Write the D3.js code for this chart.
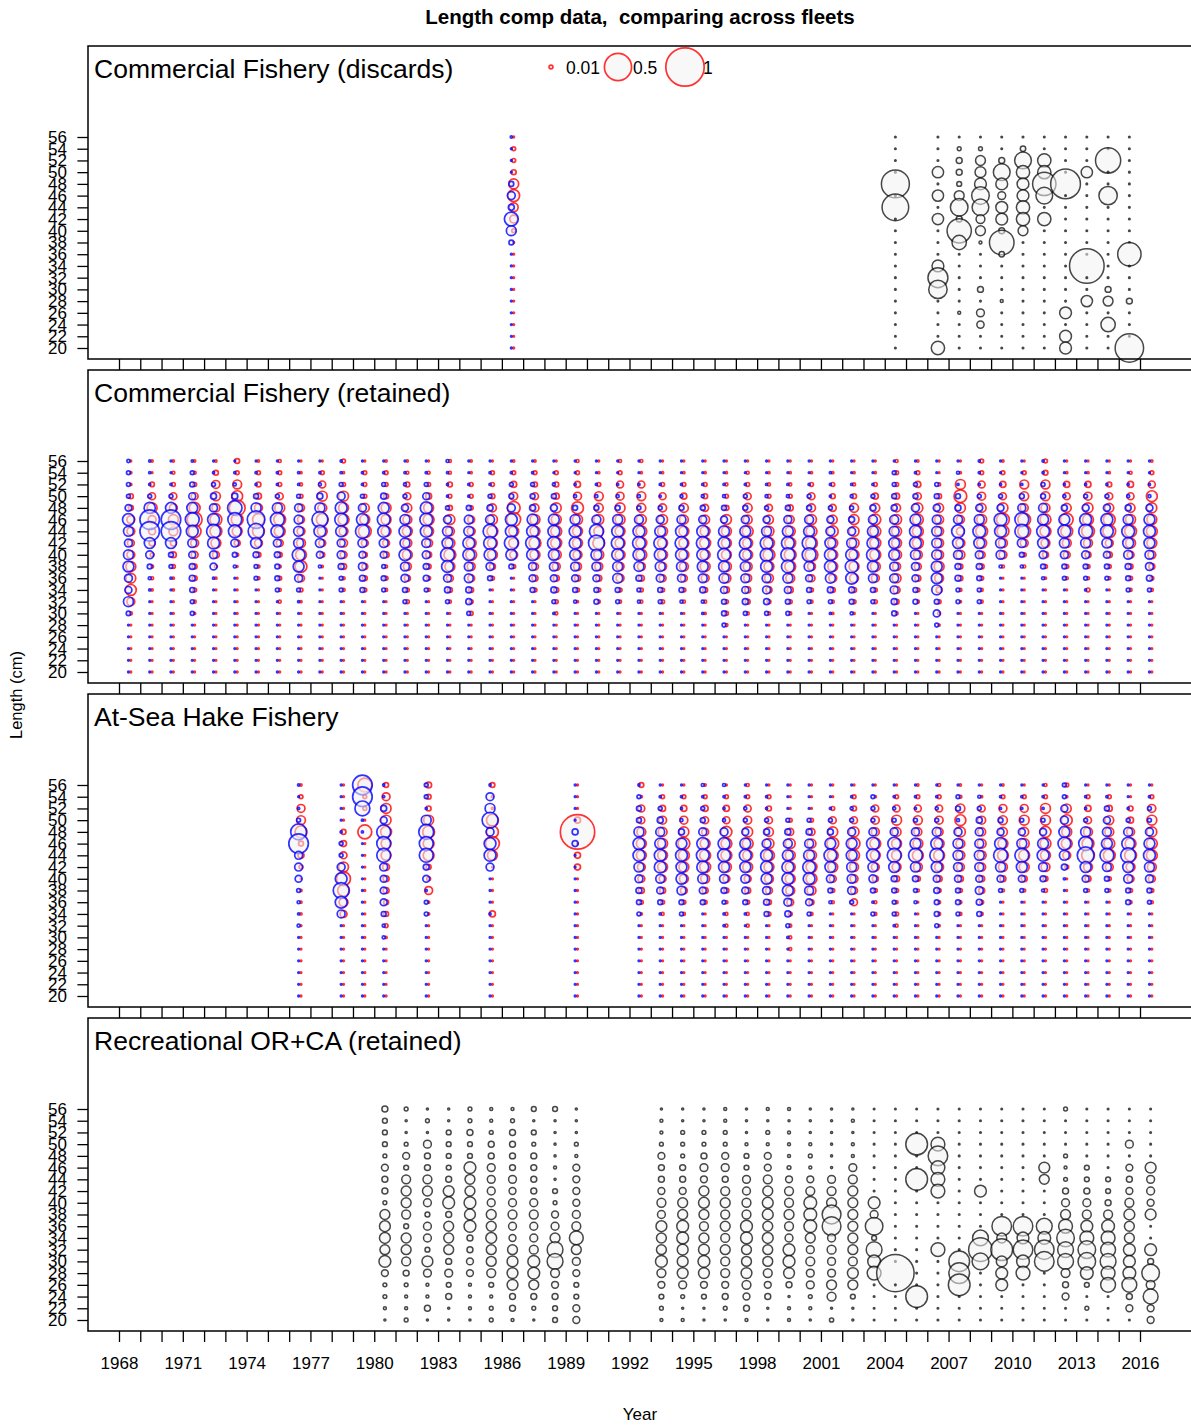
<!DOCTYPE html>
<html><head><meta charset="utf-8">
<script src="https://cdn.jsdelivr.net/npm/d3@7"></script>
<style>
html,body{margin:0;padding:0;background:#fff;}
svg{display:block;font-family:"Liberation Sans",Arial,sans-serif;}
</style></head><body>
<svg id="chart" width="1191" height="1426"></svg>
<script>
// ---------- DATA (proportions in %, length bins listed from 56 cm down to 20 cm) ----------
const lengthBins = [56,54,52,50,48,46,44,42,40,38,36,34,32,30,28,26,24,22,20];
const yearLabels = [1968,1971,1974,1977,1980,1983,1986,1989,1992,1995,1998,2001,2004,2007,2010,2013,2016];
const fleetNames = ["Commercial Fishery (discards)","Commercial Fishery (retained)","At-Sea Hake Fishery","Recreational OR+CA (retained)"];
const legendValues = [0.01,0.5,1];

// Fleet 1: Commercial discards
const discardSexedYears = [1986];
const discardFemale = [[0,1,1,1.6,6.6,9.5,5.3,4.2,1,0,0,0,0,0,0,0,0,0,0]];
const discardMale   = [[0.3,0,0,0,1.6,4.2,2.4,13,6.6,1.6,0,0,0,0,0,0,0,0,0]];
const discardUnsexedYears = [2004,2006,2007,2008,2009,2010,2011,2012,2013,2014,2015];
const discardUnsexed = [
 [0,0,0,0,53,0,48,0,0,0,0,0,0,0,0,0,0,0,0],
 [0,0,0,8.7,0,8.7,0,8.7,0,0,0,9.5,27,23,0,0,0,0,12],
 [0,1,2.4,2.4,1.6,6.6,21,2.4,40,14,0,0,0,0,0,0.6,0,0,0],
 [0,1,6.6,8,9.5,21,19,5.3,6.6,0.6,0,0,0,2.4,0,4.2,3.6,0,0],
 [0,0,2.4,19,9.5,4.2,9.5,9.5,2.4,41,2,0,0,0,0.6,0,0,0,0],
 [0,2,19,12,9.5,9.5,12,12,6.6,0,0,0,0,0,0,0,0,0,0],
 [0,0,12,12,37,19,0,12,0,0,0,0,0,0,0,0,0,0,0],
 [0,0,0,0,60,0,0,0,0,0,0,0,0,0,0,9.5,0,9.5,9.5],
 [0,0,0,8.7,0,0,0,0,0,0,0,81,0,0,8.7,0,0,0,0],
 [0,0,43,0,0,23,0,0,0,0,0,0,0,2.4,6.6,0,14,0,0],
 [0,0,0,0,0,0,0,0,0,0,37,0,0,0,2.4,0,0,0,55]
];

// Fleet 2: Commercial retained
const retainedYears = [1968,1969,1970,1971,1972,1973,1974,1975,1976,1977,1978,1979,1980,1981,1982,1983,1984,1985,1986,1987,1988,1989,1990,1991,1992,1993,1994,1995,1996,1997,1998,1999,2000,2001,2002,2003,2004,2005,2006,2007,2008,2009,2010,2011,2012,2013,2014,2015,2016];
const retainedFemale = [
 [0,0.3,0.3,1.6,1.6,4.2,4.2,3.2,4.2,6.6,6.6,8,4.2,0.6,0,0,0,0,0],
 [0.3,0,1.4,3.2,6.6,4.2,3.2,2.4,1,0.6,0.6,0.3,0,0,0,0,0,0,0],
 [0.3,0.6,1,3.2,4.2,6.6,5.3,2.4,2.4,1,0.3,0.3,0,0,0,0,0,0,0],
 [0.3,0.6,1,3.2,8,15,11,4.2,3.2,1.6,1.6,1,0.6,0.3,0,0,0,0,0],
 [0.3,1.6,4.2,5.3,4.2,9.5,9.5,6.6,3.2,0.6,0.3,0,0,0,0,0,0,0,0],
 [1.6,1,5.3,8,17,9.5,6.6,2.4,0.6,0,0,0,0,0,0,0,0,0,0],
 [0.3,1,1.6,2.4,4.2,9.5,9.5,4.2,1.6,0.6,0.6,0,0,0,0,0,0,0,0],
 [0.6,1,1,3.2,6.6,9.5,8,3.2,1.6,0.6,1,0.6,0.6,0,0,0,0,0,0],
 [0,0.3,0.6,1,3.2,3.2,4.2,5.3,8,9.5,3.2,1,0.3,0,0,0,0,0,0],
 [0,1,3.2,6.6,5.3,9.5,6.6,3.2,1.6,0.3,0,0,0,0,0,0,0,0,0],
 [1,0.3,1,6.6,6.6,8,5.3,4.2,3.2,2.4,0.6,0.6,0,0,0,0,0,0,0],
 [0,1,1,1,5.3,6.6,11,3.2,1.6,2.4,1.6,1,0,0,0,0,0,0,0],
 [0.3,1,1,1.6,6.6,6.6,6.6,3.2,2.4,0.6,1,0.6,0,0,0,0,0,0,0],
 [0.3,0.6,1.6,3.2,5.3,5.3,6.6,5.3,6.6,4.2,2.4,1,1,0,0,0,0,0,0],
 [0,0.6,1,2.4,6.6,8,6.6,4.2,2.4,1.6,1,0.6,0,0,0,0,0,0,0],
 [0.6,0.6,1.6,1,1.6,6.6,5.3,6.6,9.5,6.6,3.2,1.6,0.6,0,0,0,0,0,0],
 [0.3,0.3,1,1,1,3.2,4.2,6.6,8,4.2,3.2,1.6,1,1,0,0,0,0,0],
 [0,1,1,1.6,4.2,6.6,8,6.6,6.6,2.4,1,0,0,0,0,0,0,0,0],
 [0.3,1,2.4,4.2,11,13,6.6,6.6,4.2,1,0,0,0,0,0,0,0,0,0],
 [0.3,1,1.6,3.2,4.2,6.6,6.6,9.5,6.6,3.2,2.4,1,0,0,0,0,0,0,0],
 [0,1,1.6,2.4,6.6,6.6,8,8,6.6,4.2,2.4,1.6,1,0.6,0,0,0,0,0],
 [0.6,1,2.4,4.2,9.5,6.6,6.6,6.6,5.3,4.2,2.4,1,0.3,0,0,0,0,0,0],
 [0,0.3,1,5.3,5.3,6.6,6.6,9.5,6.6,4.2,2.4,1,0.6,0,0,0,0,0,0],
 [0.6,1,3.2,4.2,6.6,6.6,6.6,6.6,6.6,4.2,4.2,1,0.6,0,0,0,0,0,0],
 [0.6,0.3,3.2,5.3,5.3,6.6,8,8,8,4.2,2.4,1,0.6,0,0,0,0,0,0],
 [0,0.3,1,3.2,4.2,6.6,6.6,6.6,6.6,4.2,3.2,1,1,0,0,0,0,0,0],
 [0,0.3,1,2.4,5.3,5.3,6.6,6.6,6.6,5.3,3.2,1,0.6,0,0,0,0,0,0],
 [0,0.3,1,1.6,3.2,5.3,6.6,8,6.6,6.6,4.2,1.6,0.6,0.3,0,0,0,0,0],
 [0,0.3,0.6,1,1.6,6.6,6.6,6.6,6.6,6.6,5.3,2.4,1,1,0.6,0,0,0,0],
 [0,0.6,1,3.2,5.3,5.3,8,6.6,6.6,5.3,4.2,2.4,1.6,0.6,0,0,0,0,0],
 [0,0.3,0.6,1,3.2,5.3,6.6,8,9.5,6.6,5.3,2.4,1,0.6,0,0,0,0,0],
 [0,0.3,0.6,1,2.4,4.2,6.6,8,9.5,8,5.3,2.4,1,0.6,0,0,0,0,0],
 [0,0.3,1,3.2,4.2,6.6,8,9.5,11,4.2,3.2,1,0.6,0,0,0,0,0,0],
 [0,0.3,1,1.6,3.2,5.3,8,6.6,6.6,6.6,4.2,1.6,0.6,0.3,0,0,0,0,0],
 [0,0.3,0.6,1.6,5.3,6.6,6.6,6.6,6.6,6.6,5.3,1.6,1,0.3,0,0,0,0,0],
 [0,0.3,1,2.4,5.3,8,8,8,8,6.6,4.2,1,1,0,0,0,0,0,0],
 [0.6,1,1,2.4,4.2,6.6,6.6,6.6,6.6,4.2,5.3,3.2,1.6,0.6,0,0,0,0,0],
 [0.3,1,2.4,3.2,6.6,8,8,8,5.3,3.2,2.4,1,0.6,0,0,0,0,0,0],
 [0,0,0.6,1.6,5.3,5.3,5.3,5.3,5.3,6.6,5.3,2.4,1,0.6,0.3,0,0,0,0],
 [0,0.3,6.6,11,6.6,4.2,4.2,5.3,5.3,1.6,1.6,0.6,0.3,0,0,0,0,0,0],
 [1,1,3.2,4.2,5.3,6.6,9.5,6.6,3.2,1.6,1,0.6,0.6,0,0,0,0,0,0],
 [0.3,1,2.4,3.2,6.6,11,9.5,5.3,4.2,0.6,0,0,0,0,0,0,0,0,0],
 [0,1,5.3,5.3,4.2,11,11,4.2,1,0.6,0,0,0,0,0,0,0,0,0],
 [1,1.6,5.3,5.3,5.3,8,8,5.3,2.4,1,0.3,0,0,0,0,0,0,0,0],
 [0,0.3,2.4,3.2,5.3,11,9.5,5.3,3.2,1,0.6,0,0,0,0,0,0,0,0],
 [0,0.3,2.4,4.2,6.6,8,11,5.3,2.4,1,0.6,1,0,0,0,0,0,0,0],
 [0,0.3,1.6,3.2,5.3,9.5,11,4.2,2.4,1,0.6,0,0,0,0,0,0,0,0],
 [0,0.6,2.4,3.2,5.3,6.6,9.5,6.6,3.2,1.6,1,0.6,0,0,0,0,0,0,0],
 [0.3,1,3.2,8,6.6,6.6,8,6.6,4.2,2.4,1,0.6,0,0,0,0,0,0,0]
];
const retainedMale = [
 [0.7,1,1,1,3,9.5,6.6,4.2,6.6,8,4.2,3.2,6.6,1.3,0,0,0,0,0],
 [0.3,0.3,0.3,1,8.5,26,26,8,4.2,1.6,0.6,0.3,0,0,0,0,0,0,0],
 [0,0,0.3,1,8,26,26,8,1.6,1,0.3,0,0,0,0,0,0,0,0],
 [0.3,1,1.6,3.2,8,13,9.5,5.3,3.2,2.4,2.4,1.6,1,1,0,0,0,0,0],
 [0,0.3,1,2.4,4.2,9.5,13,9.5,4.2,3.2,0.3,0,0,0,0,0,0,0,0],
 [0,0.3,0.6,2.4,14,13,11,4.2,1.6,0.6,0,0,0,0,0,0,0,0,0],
 [0,0.3,0.3,1.6,6.6,21,17,8,2.4,1,1,0,0,0,0,0,0,0,0],
 [0,0.3,0.3,1,6.6,13,11,4.2,2.4,1.6,1.6,1,0,0,0,0,0,0,0],
 [0,0.3,0.3,1,4.2,5.3,6.6,6.6,11,8,4.2,1,0.3,0,0,0,0,0,0],
 [0,0.3,0.6,2.4,6.6,17,9.5,5.3,3.2,0.6,0,0,0,0,0,0,0,0,0],
 [0.3,0.3,1,4.2,9.5,11,8,4.2,4.2,2.4,1,1,0,0,0,0,0,0,0],
 [0,0.3,0.3,1,4.2,9.5,13,5.3,3.2,4.2,2.4,1.6,0,0,0,0,0,0,0],
 [0,0.3,1,2.4,8,11,9.5,5.3,3.2,1,1.6,1,0,0,0,0,0,0,0],
 [0,0.3,0.6,1,3.2,6.6,9.5,6.6,9.5,5.3,4.2,1.6,1,0,0,0,0,0,0],
 [0,0.3,1,3.2,9.5,11,9.5,5.3,4.2,2.4,2.4,1,0,0,0,0,0,0,0],
 [0.6,0.3,0.3,0.3,1,4.2,6.6,8,13,9.5,4.2,2.4,1,0,0,0,0,0,0],
 [0,0,0.3,0.3,1.6,5.3,6.6,9.5,9.5,5.3,5.3,2.4,2.4,1,0,0,0,0,0],
 [0,0.3,0.3,1,2.4,5.3,13,11,9.5,4.2,1.6,0,0,0,0,0,0,0,0],
 [0,0.3,1,1.6,4.2,9.5,9.5,13,8,1.6,0,0,0,0,0,0,0,0,0],
 [0,0.3,1,1.6,2.4,8,9.5,13,9.5,4.2,3.2,1.6,0,0,0,0,0,0,0],
 [0,0,0.6,1.6,3.2,8,9.5,11,8,5.3,3.2,2.4,1,0.3,0,0,0,0,0],
 [0,0,0.3,0.6,1.6,6.6,9.5,9.5,8,5.3,3.2,1.6,0.6,0,0,0,0,0,0],
 [0,0,0.3,0.6,1.6,5.3,13,17,8,5.3,3.2,1.6,1.6,0,0,0,0,0,0],
 [0,0,0.3,0.6,1.6,6.6,9.5,11,9.5,6.6,6.6,1.6,1,0,0,0,0,0,0],
 [0,0,0.3,0.6,1,5.3,9.5,11,9.5,6.6,2.4,1,0.6,0,0,0,0,0,0],
 [0,0,0.3,0.3,1,4.2,8,11,9.5,6.6,4.2,1.6,1,0,0,0,0,0,0],
 [0,0,0.3,0.6,1.6,5.3,9.5,11,9.5,6.6,4.2,1.6,0.6,0,0,0,0,0,0],
 [0,0,0.3,0.6,1.6,4.2,9.5,11,9.5,8,5.3,2.4,0.6,0.3,0,0,0,0,0],
 [0,0,0.3,0.6,1.6,3.2,8,9.5,11,8,6.6,3.2,1.6,1.6,1,0,0,0,0],
 [0,0,0.3,1,1.6,4.2,8,9.5,9.5,6.6,5.3,3.2,2.4,1,0,0,0,0,0],
 [0,0,0.3,0.6,1,3.2,6.6,11,11,9.5,5.3,4.2,2.4,1,0,0,0,0,0],
 [0,0,0.3,0.6,1.6,4.2,8,11,13,11,6.6,3.2,1.6,1,0,0,0,0,0],
 [0,0,0.3,1,1.6,5.3,8,13,13,6.6,3.2,1.6,1,0,0,0,0,0,0],
 [0,0.3,0.3,0.3,1,3.2,5.3,8,9.5,9.5,6.6,2.4,1,0.3,0,0,0,0,0],
 [0,0,0.3,0.6,1,2.4,4.2,6.6,9.5,11,9.5,2.4,1.6,0.6,0,0,0,0,0],
 [0,0,0.3,1,2.4,5.3,8,9.5,11,8,5.3,1.6,1,0,0,0,0,0,0],
 [0,1,1,1.6,2.4,5.3,6.6,8,8,5.3,5.3,4.2,2.4,1.6,0,0,0,0,0],
 [0,0.3,1,1.6,4.2,8,9.5,9.5,6.6,4.2,3.2,1.6,1.6,0,0,0,0,0,0],
 [0,0,1,1.6,3.2,5.3,6.6,6.6,6.6,8,8,6.6,1.6,3.2,1,0,0,0,0],
 [0,0.6,0.3,1.6,2.4,5.3,11,8,5.3,2.4,2.4,1,1,0,0,0,0,0,0],
 [0.3,0.3,0.3,1,3.2,6.6,11,8,4.2,2.4,1.6,1,1,0,0,0,0,0,0],
 [0,0,0.3,1,3.2,11,9.5,6.6,5.3,0.6,0,0,0,0,0,0,0,0,0],
 [0,0,0.3,1.6,4.2,13,13,5.3,1.6,0.6,0,0,0,0,0,0,0,0,0],
 [0.3,0.3,1,1.6,5.3,8,11,8,4.2,1.6,0.6,0,0,0,0,0,0,0,0],
 [0,0,0.3,0.6,2.4,8,11,6.6,4.2,1.6,1,0,0,0,0,0,0,0,0],
 [0,0,0.3,1,3.2,9.5,13,6.6,4.2,1.6,1,0.3,0,0,0,0,0,0,0],
 [0,0,0.3,1,3.2,9.5,11,6.6,3.2,1.6,1,0,0,0,0,0,0,0,0],
 [0,0,0.3,0.6,2.4,6.6,11,8,5.3,2.4,1.6,1,0,0,0,0,0,0,0],
 [0,0,0.3,0.6,3.2,8,9.5,8,5.3,4.2,2.4,1,0,0,0,0,0,0,0]
];

// Fleet 3: At-Sea Hake
const hakeYears = [1976,1978,1979,1980,1982,1985,1989,1992,1993,1994,1995,1996,1997,1998,1999,2000,2001,2002,2003,2004,2005,2006,2007,2008,2009,2010,2011,2012,2013,2014,2015,2016];
const hakeFemale = [
 [0.3,1,4.2,5.3,9.5,1.6,2.4,1,0,0.3,0.3,0.3,0,0,0,0,0,0,0],
 [0,0,0,0,1.6,2.4,3.2,6.6,13,9.5,5.3,3.2,0,0,0,0,0,0,0],
 [13,1,1,0,13,0,0,0,0,0,0,0,0,0,0,0,0,0,0],
 [1.6,4.2,6.6,6.6,8,6.6,6.6,3.2,2.4,2.4,1.6,1.6,1,0.3,0,0,0,0,0],
 [2.4,1.6,1.6,6.6,9.5,8,8,1.6,1,4.2,0.3,0.3,0,0,0,0,0,0,0],
 [1.6,0.3,0.3,9.5,9.5,13,6.6,0,0,0,0,2.4,0,0,0,0,0,0,0],
 [0,0,0,2.4,80,0,2.4,2.4,0,0,0,0,0,0,0,0,0,0,0],
 [1.6,0.3,3.2,3.2,5.3,6.6,6.6,4.2,3.2,2.4,1,0.3,0,0,0,0,0,0,0],
 [0,1,2.4,4.2,5.3,6.6,6.6,6.6,3.2,2.4,1,0.6,0,0,0,0,0,0,0],
 [0,1,2.4,4.2,6.6,9.5,8,6.6,5.3,3.2,1,0.6,0,0,0,0,0,0,0],
 [0.3,1,2.4,3.2,3.2,6.6,8,8,5.3,2.4,1,0,0,0,0,0,0,0,0],
 [0,1,2.4,3.2,8,8,8,6.6,3.2,1.6,0.6,0.6,0.6,0,0,0,0,0,0],
 [0.6,1,3.2,4.2,6.6,8,6.6,6.6,3.2,2.4,1,0.6,0.6,0,0,0,0,0,0],
 [0,1,1.6,3.2,5.3,6.6,8,6.6,5.3,3.2,1.6,1,0,0,0,0,0,0,0],
 [0,0,0,1,3.2,6.6,6.6,6.6,6.6,5.3,3.2,1,0.6,0.6,0.6,0,0,0,0],
 [0,0,0,1,3.2,5.3,6.6,8,8,5.3,1.6,0.6,0,0,0,0,0,0,0],
 [0,0,1,3.2,6.6,9.5,8,6.6,3.2,1,0.6,0,0,0,0,0,0,0,0],
 [0,1,1.6,3.2,6.6,9.5,8,5.3,4.2,3.2,3.2,0,0,0,0,0,0,0,0],
 [0,0.3,3.2,4.2,4.2,8,6.6,4.2,2.4,1,0.6,0.6,0,0,0,0,0,0,0],
 [0,1,3.2,6.6,5.3,6.6,6.6,5.3,2.4,1,0.6,1,0.6,0,0,0,0,0,0],
 [0.3,1,3.2,5.3,4.2,6.6,8,5.3,1.6,0.6,0,0,0,0,0,0,0,0,0],
 [0.6,1,3.2,4.2,4.2,6.6,8,5.3,2.4,1,0.6,0.6,0.3,0,0,0,0,0,0],
 [0.3,0.6,5.3,8,6.6,5.3,5.3,4.2,2.4,1,0.6,0.6,0,0,0,0,0,0,0],
 [0,0.3,3.2,4.2,4.2,5.3,5.3,4.2,2.4,2.4,1,0.6,0,0,0,0,0,0,0],
 [0.3,1,4.2,5.3,5.3,6.6,8,5.3,2.4,0.6,0,0,0,0,0,0,0,0,0],
 [0,1,4.2,6.6,5.3,6.6,8,6.6,2.4,0.6,0,0,0,0,0,0,0,0,0],
 [0.6,1,6.6,6.6,8,8,6.6,5.3,1.6,1,0,0,0,0,0,0,0,0,0],
 [1,0.3,5.3,8,6.6,8,4.2,1,0,0,0,0,0,0,0,0,0,0,0],
 [0,1,2.4,3.2,5.3,9.5,11,5.3,2.4,0.6,0,0,0,0,0,0,0,0,0],
 [0,1,2.4,5.3,5.3,8,9.5,4.2,1,0.6,0,0,0,0,0,0,0,0,0],
 [0,0,1.6,2.4,4.2,8,9.5,5.3,3.2,1,0.6,0,0,0,0,0,0,0,0],
 [0,1,4.2,6.6,6.6,8,8,5.3,3.2,1,0.6,0,0,0,0,0,0,0,0]
];
const hakeMale = [
 [0.3,0,0.3,1,17,26,4.2,4.2,3.2,1,0.6,0.3,0.6,0,0,0,0,0,0],
 [0,0,0,0,0.3,1,1,4.2,9.5,17,9.5,4.2,0,0,0,0,0,0,0],
 [26,26,15,0.3,0.3,0,0,0,0,0,0,0,0,0,0,0,0,0,0],
 [0.3,0.3,2.4,3.2,13,13,13,4.2,3.2,3.2,3.2,1.6,0.6,0.6,0,0,0,0,0],
 [1,1,0.3,6.6,15,13,13,2.4,3.2,0.3,1,1,0,0,0,0,0,0,0],
 [0.3,4.2,6.6,17,4.2,9.5,9.5,4.2,0,0,0,0.3,0,0,0,0,0,0,0],
 [0,0,0,0,2.4,2.4,0,0,0,0,0,0,0,0,0,0,0,0,0],
 [0.3,1,1.6,1.6,6.6,9.5,9.5,6.6,4.2,2.4,1.6,1,0,0,0,0,0,0,0],
 [0,0.3,1,2.4,5.3,8,9.5,9.5,5.3,3.2,1.6,0.3,0,0,0,0,0,0,0],
 [0,0.3,0.3,0.6,2.4,8,9.5,8,8,5.3,1.6,1,0,0,0,0,0,0,0],
 [0.6,0.3,1,1.6,4.2,9.5,11,9.5,6.6,3.2,1.6,0,0,0,0,0,0,0,0],
 [0.6,0.3,0.3,0.6,4.2,9.5,11,8,5.3,2.4,1,0.3,0.3,0,0,0,0,0,0],
 [0,0.3,0.6,1,3.2,8,9.5,8,5.3,3.2,1.6,0.3,0,0,0,0,0,0,0],
 [0,0.3,0.3,1,2.4,5.3,9.5,9.5,8,4.2,2.4,1.6,0,0,0,0,0,0,0],
 [0,0,0,1,2.4,5.3,8,9.5,9.5,8,4.2,2.4,1,0.3,0,0,0,0,0],
 [0,0,0,1,2.4,5.3,8,11,9.5,5.3,3.2,1,0,0,0,0,0,0,0],
 [0,0,0.3,1,2.4,8,11,8,4.2,1.6,0.6,0,0,0,0,0,0,0,0],
 [0,0.3,0.6,1,4.2,8,8,6.6,5.3,4.2,1,0,0,0,0,0,0,0,0],
 [0,1,1,1,4.2,11,11,6.6,4.2,1.6,0.3,1,0,0,0,0,0,0,0],
 [0,0.3,0.6,1,4.2,11,13,8,2.4,1.6,1,1,0.3,0,0,0,0,0,0],
 [0,0.3,0.3,1,4.2,8,13,6.6,2.4,1,0.6,0,0,0,0,0,0,0,0],
 [0,0.3,0.6,1,5.3,9.5,13,8,3.2,2.4,1.6,1.6,1,0,0,0,0,0,0],
 [0,1,1.6,0.6,4.2,6.6,6.6,5.3,3.2,1.6,1.6,1,0,0,0,0,0,0,0],
 [0,0.6,1,2.4,4.2,5.3,6.6,5.3,3.2,4.2,2.4,1.6,0,0,0,0,0,0,0],
 [0,0.3,0.3,1.6,3.2,9.5,13,6.6,3.2,1,0,0,0,0,0,0,0,0,0],
 [0,0.3,0.3,1,3.2,6.6,13,8,3.2,1,0,0,0,0,0,0,0,0,0],
 [0,0.3,0.3,1,3.2,8,9.5,5.3,2.4,0.6,0,0,0,0,0,0,0,0,0],
 [1,1,3.2,4.2,8,11,6.6,2.4,0.3,0,0,0,0,0,0,0,0,0,0],
 [0,0.3,0.3,1,6.6,13,19,8,3.2,1,0,0,0,0,0,0,0,0,0],
 [0,0.3,1.6,3.2,5.3,8,13,5.3,1.6,1,0,0,0,0,0,0,0,0,0],
 [0,0,0.3,1,5.3,11,15,8,5.3,1.6,1.6,0,0,0,0,0,0,0,0],
 [0,0.3,1,1,4.2,8,9.5,6.6,4.2,1.6,1,0,0,0,0,0,0,0,0]
];

// Fleet 4: Recreational OR+CA (unsexed)
const recYears = [1980,1981,1982,1983,1984,1985,1986,1987,1988,1989,1993,1994,1995,1996,1997,1998,1999,2000,2001,2002,2003,2004,2005,2006,2007,2008,2009,2010,2011,2012,2013,2014,2015,2016];
const recUnsexed = [
 [2.4,1.6,1.6,1.6,1,3.2,2.4,2.4,1,6.6,8,8,6.6,9.5,3.2,1,1,0.6,0.3],
 [1,0.3,0.3,1,3.2,1.6,5.3,6.6,6.6,5.3,1.6,6.6,6.6,5.3,2.4,1,0.6,0.6,1],
 [0.3,1,0.3,4.2,2.4,2.4,5.3,6.6,4.2,1.6,4.2,4.2,1.6,8,4.2,0.6,0.6,2.4,0.3],
 [0.3,0.3,1.6,1.6,1.6,1.6,2.4,8,9.5,2.4,6.6,6.6,6.6,2.4,4.2,1.6,2.4,0.3,0.3],
 [1,1,2.4,1.6,1.6,9.5,6.6,6.6,9.5,8,9.5,2.4,2.4,3.2,3.2,0.6,0.6,0.6,0.3],
 [0.6,0.6,1,2.4,2.4,4.2,4.2,4.2,4.2,6.6,6.6,8,6.6,6.6,5.3,1.6,0.6,1,1],
 [0.6,1,2.4,2.4,2.4,2.4,4.2,3.2,4.2,5.3,4.2,3.2,6.6,8,8,8,2.4,2.4,0.6],
 [1.6,0.3,1.6,1,2.4,2.4,2.4,2.4,4.2,5.3,4.2,4.2,5.3,9.5,9.5,6.6,2.4,1,0.3],
 [1.6,0.3,0.3,0.3,0.3,0.6,0.3,1.6,1,3.2,4.2,6.6,17,17,5.3,3.2,2.4,1.6,1.6],
 [0.3,0.3,0.3,1,0.6,3.2,3.2,3.2,3.2,4.2,5.3,13,6.6,4.2,3.2,1.6,1.6,3.2,3.2],
 [0.3,0.6,0.6,1,3.2,2.4,2.4,3.2,5.3,4.2,8,6.6,6.6,9.5,5.3,3.2,1.6,1,0.6],
 [0.3,0.3,1,1,1,2.4,2.4,3.2,6.6,6.6,9.5,9.5,8,8,8,4.2,1,0.3,0.6],
 [0.3,0.3,1,1,2.4,4.2,3.2,6.6,8,6.6,5.3,6.6,8,9.5,8,3.2,1.6,0.3,0.3],
 [0.6,0.6,1,1,3.2,4.2,2.4,5.3,6.6,5.3,6.6,5.3,6.6,5.3,5.3,3.2,2.4,1,0.3],
 [0.3,0.3,0.3,0.6,1.6,1.6,4.2,4.2,5.3,5.3,9.5,9.5,6.6,6.6,8,5.3,3.2,2.4,0.6],
 [0.6,0.3,1,0.6,3.2,3.2,5.3,6.6,8,8,6.6,8,6.6,6.6,5.3,3.2,2.4,0.3,0.3],
 [0.6,0.3,0.6,0.6,0.6,1,3.2,5.3,5.3,6.6,5.3,4.2,9.5,9.5,8,2.4,0.3,0.6,0.6],
 [0.3,0.3,0.3,0.6,1,0.6,3.2,5.3,11,11,11,6.6,4.2,5.3,4.2,4.2,1,0.6,0.3],
 [0.3,0.3,0.3,0.3,0.3,0.3,4.2,5.3,6.6,24,24,4.2,5.3,4.2,4.2,6.6,5.3,0.3,1.2],
 [0.3,0.6,0.3,0.6,0.6,4.2,5.3,6.6,6.6,6.6,6.6,6.6,6.6,5.3,8,6.6,1.6,0.3,0.3],
 [0,0,0,0,0,0,0,0,9.5,4.2,21,1.6,17,11,13,0,0,0,0],
 [0,0,0,0,0,0,0,0,0,0,0,0,0,0,95,0,0,0,0],
 [0,0,0,32,0,0,32,0,0,0,0,0,0,0,0,0,32,0,0],
 [0,0,0,13,26,13,13,13,0,0,0,0,13,0,0,0,0,0,0],
 [0,0,0,0,0,0,0,0,0,0,0,0,0,29,29,32,0,0,0],
 [0,0,0,0,0,0,0,9.5,0,0,0,17,38,19,0,0,0,0,0],
 [0,0,0,0,0,0,0,0,0,0,26,6.6,32,8,9.5,9.5,0,0,0],
 [0,0,0,0,0,0,0,0,0,0,26,9.5,26,11,13,0,0,0,0],
 [0,0,0,0,0,8,6.6,0,0,0,17,11,26,26,0,0,0,0,0],
 [1,0,0,0,1,0.6,1,2.4,4.2,6.6,13,21,17,17,5.3,2.4,3.2,0,0],
 [0,0,0,0,0,1.6,1.6,2.4,4.2,5.3,9.5,13,21,21,11,1.6,0,1,0],
 [0,0,0,0,0,0,1.6,1.6,2.4,5.3,11,13,15,17,13,15,0,0,0],
 [0,0,0,4.2,0,3.2,2.4,3.2,5.3,8,6.6,6.6,9.5,9.5,11,15,2.4,3.2,0],
 [0,0,0,0,0,8,4.2,4.2,3.2,8,0,0,9.5,2.4,21,5.3,15,3.2,3.2]
];

// ---------- DRAWING ----------
const svg = d3.select("#chart");
const x = d3.scaleLinear().domain([1968,2016]).range([119,1140]);
const rScale = d3.scaleSqrt().domain([0,100]).range([0,19.2]);
const rad = v => Math.max(0.8, rScale(v));
const panelTop = [46,370,694,1018];
const panelH = 313;
const allYears = d3.range(1968,2017);

const FEMALE = "rgba(255,0,0,0.8)", MALE = "rgba(0,0,255,0.8)", UNSEX = "rgba(0,0,0,0.72)";
const FILL = "rgba(242,242,242,0.55)";

const panels = [
  {title: fleetNames[0], sexed: {years: discardSexedYears, f: discardFemale, m: discardMale}, unsexed: {years: discardUnsexedYears, v: discardUnsexed}},
  {title: fleetNames[1], sexed: {years: retainedYears, f: retainedFemale, m: retainedMale}},
  {title: fleetNames[2], sexed: {years: hakeYears, f: hakeFemale, m: hakeMale}},
  {title: fleetNames[3], unsexed: {years: recYears, v: recUnsexed}}
];

function flatten(years, vals, dx) {
  const out = [];
  years.forEach((yr, i) => vals[i].forEach((v, j) => out.push({yr, len: lengthBins[j], v, dx})));
  return out;
}

panels.forEach((p, pi) => {
  const top = panelTop[pi];
  const y = d3.scaleLinear().domain([20,56]).range([top + 302, top + 91]);
  const g = svg.append("g");

  // y axis
  const ya = g.append("g").attr("transform", "translate(88,0)")
    .call(d3.axisLeft(y).tickValues(lengthBins).tickSize(10.6).tickPadding(10.5).tickFormat(d3.format("d")));
  ya.select(".domain").remove();
  ya.selectAll("line").attr("stroke", "#000").attr("stroke-width", 1.3);
  ya.selectAll("text").attr("font-size", 17).attr("font-family", "Liberation Sans, Arial, sans-serif").attr("fill", "#000");

  // x ticks under each panel
  const xa = g.append("g").attr("transform", `translate(0,${top + panelH})`)
    .call(d3.axisBottom(x).tickValues(allYears).tickSize(11).tickPadding(15)
      .tickFormat(d => (pi === 3 && yearLabels.includes(d)) ? String(d) : ""));
  xa.select(".domain").remove();
  xa.selectAll("line").attr("stroke", "#000").attr("stroke-width", 1.3);
  xa.selectAll("text").attr("font-size", 17).attr("font-family", "Liberation Sans, Arial, sans-serif").attr("fill", "#000");

  // bubbles
  const layers = [];
  if (p.sexed) {
    layers.push({data: flatten(p.sexed.years, p.sexed.f, 1.2), col: FEMALE, sw: 1.7});
    layers.push({data: flatten(p.sexed.years, p.sexed.m, -1.2), col: MALE, sw: 1.7});
  }
  if (p.unsexed) layers.push({data: flatten(p.unsexed.years, p.unsexed.v, 0), col: UNSEX, sw: 1.5});
  layers.forEach(L => {
    g.append("g").selectAll("circle").data(L.data).join("circle")
      .attr("cx", d => x(d.yr + 0.5) + d.dx)
      .attr("cy", d => y(d.len))
      .attr("r", d => rad(d.v))
      .attr("fill", FILL)
      .attr("stroke", L.col)
      .attr("stroke-width", L.sw);
  });

  // panel box
  g.append("rect").attr("x", 88).attr("y", top).attr("width", 1140).attr("height", panelH)
    .attr("fill", "none").attr("stroke", "#000").attr("stroke-width", 1.5);

  // panel title
  g.append("text").attr("x", 94).attr("y", top + 32).attr("font-size", 26.5).attr("fill", "#000").text(p.title);

  // legend in first panel
  if (pi === 0) {
    const lx = [551, 618, 685], tx = [566, 633, 703];
    legendValues.forEach((v, k) => {
      g.append("circle").attr("cx", lx[k]).attr("cy", 67).attr("r", rScale(v * 100))
        .attr("fill", FILL).attr("stroke", FEMALE).attr("stroke-width", 1.7);
      g.append("text").attr("x", tx[k]).attr("y", 74).attr("font-size", 17.5).attr("fill", "#000")
        .text(String(v));
    });
  }
});

// titles and axis labels
svg.append("text").attr("x", 640).attr("y", 24).attr("text-anchor", "middle")
  .attr("font-size", 20.5).attr("font-weight", "bold").style("white-space", "pre")
  .text("Length comp data,  comparing across fleets");
svg.append("text").attr("transform", "translate(22,695) rotate(-90)").attr("text-anchor", "middle")
  .attr("font-size", 16.5).text("Length (cm)");
svg.append("text").attr("x", 640).attr("y", 1420).attr("text-anchor", "middle")
  .attr("font-size", 17).text("Year");
</script>
</body></html>
